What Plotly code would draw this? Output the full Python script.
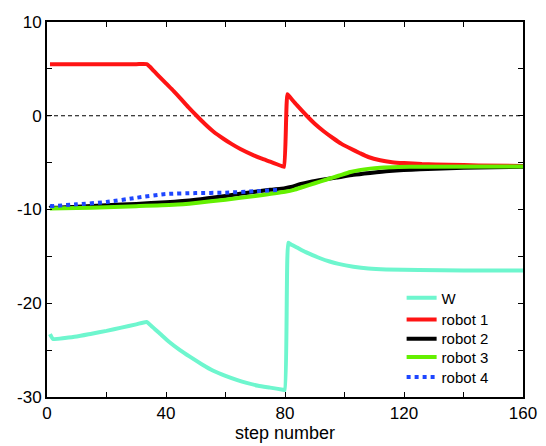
import plotly.graph_objects as go

# ---- data ----
w_steps = [1, 2, 6, 10, 15, 20, 25, 30, 33.5, 35, 38, 41, 44.7, 48, 52, 55.9, 60, 64, 67.1, 71, 75, 79.3, 79.9,
           81.1, 81.6, 84, 87, 91.8, 95, 98, 103, 108, 114, 125, 140, 160]
w_vals = [-23.3, -23.8, -23.7, -23.55, -23.25, -22.95, -22.6, -22.25, -22.0, -22.4, -23.25, -24.1, -25.0,
          -25.7, -26.5, -27.2, -27.75, -28.2, -28.5, -28.8, -29.0, -29.22, -29.25,
          -13.55, -13.65, -14.05, -14.55, -15.2, -15.55, -15.8, -16.1, -16.3, -16.4, -16.45, -16.5, -16.5]

r1_steps = [1, 10, 20, 30, 33.5, 34.5, 36, 38, 40, 42.5, 45, 47.5, 50.3, 53, 56, 59.3, 62, 65, 69.3, 72, 75,
            77.5, 79.2, 79.7, 80.8, 81.3, 82, 84, 87.3, 90, 93, 96.2, 99, 102, 105.2, 108, 112, 116, 120, 126,
            135, 145, 160]
r1_vals = [5.5, 5.5, 5.5, 5.5, 5.5, 5.25, 4.75, 4.1, 3.45, 2.65, 1.8, 0.92, 0.0, -0.85, -1.7, -2.45, -3.0, -3.55,
           -4.2, -4.55, -4.9, -5.2, -5.4, -5.45, 2.3, 2.12, 1.86, 1.13, 0.0, -0.85, -1.65, -2.4, -3.0, -3.5,
           -4.0, -4.4, -4.75, -4.95, -5.05, -5.15, -5.22, -5.3, -5.35]

r2_steps = [1, 2, 10, 20, 30, 40, 50, 60, 70, 75, 80, 82, 85, 88.4, 93, 97.3, 103, 108.6, 115, 125.4, 140, 160]
r2_vals = [-9.55, -9.8, -9.7, -9.55, -9.4, -9.22, -8.95, -8.55, -8.1, -7.9, -7.72, -7.6, -7.3, -7.05, -6.8,
           -6.6, -6.3, -6.1, -5.9, -5.7, -5.55, -5.45]

r3_steps = [1, 10, 20, 30, 42.5, 50, 60, 70, 80, 83, 86, 90, 94, 98, 102, 105, 108.6, 112, 118, 125, 160]
r3_vals = [-9.9, -9.85, -9.75, -9.65, -9.5, -9.3, -8.95, -8.55, -8.1, -7.9, -7.6, -7.2, -6.8, -6.4, -6.0,
           -5.8, -5.64, -5.55, -5.47, -5.43, -5.42]

r4_steps = [1, 10, 20, 30, 40, 50, 60, 70, 78]
r4_vals = [-9.65, -9.45, -9.2, -8.75, -8.35, -8.25, -8.2, -8.05, -7.9]

x_ticks = [0, 20, 40, 60, 80, 100, 120, 140, 160]
x_labels = ["0", "", "40", "", "80", "", "120", "", "160"]
y_ticks = [-30, -25, -20, -15, -10, -5, 0, 5, 10]
y_labels = ["-30", "", "-20", "", "-10", "", "0", "", "10"]

FONT = "Liberation Sans, Arial, sans-serif"

fig = go.Figure()
fig.add_trace(go.Scatter(x=w_steps, y=w_vals, mode="lines", name="W", legend="legend",
                         line=dict(color="rgb(110,246,206)", width=4, shape="spline", smoothing=0.5)))
fig.add_trace(go.Scatter(x=r1_steps, y=r1_vals, mode="lines", name="robot 1", legend="legend2",
                         line=dict(color="rgb(255,20,20)", width=4, shape="spline", smoothing=0.5)))
fig.add_trace(go.Scatter(x=r2_steps, y=r2_vals, mode="lines", name="robot 2", legend="legend3",
                         line=dict(color="black", width=4, shape="spline", smoothing=0.6)))
fig.add_trace(go.Scatter(x=r3_steps, y=r3_vals, mode="lines", name="robot 3", legend="legend4",
                         line=dict(color="rgb(100,240,0)", width=4, shape="spline", smoothing=0.6)))
fig.add_trace(go.Scatter(x=r4_steps, y=r4_vals, mode="lines", name="robot 4", legend="legend5",
                         line=dict(color="rgb(30,70,255)", width=4, dash="dot", shape="spline", smoothing=0.6)))

fig.add_shape(type="line", xref="x", yref="y", x0=0, x1=160, y0=0, y1=0,
              line=dict(color="black", width=1.2, dash="4px,3px"), layer="below")

axis_common = dict(showgrid=False, zeroline=False, showline=True, linecolor="black", linewidth=2,
                   mirror="ticks", ticks="inside", ticklen=5, tickcolor="black", tickwidth=1,
                   automargin=False,
                   tickfont=dict(family=FONT, size=17, color="black"))

legend_style = dict(xanchor="left", yanchor="middle", bgcolor="rgba(0,0,0,0)",
                    font=dict(family=FONT, size=15), itemwidth=30, x=0.745)
# legend entry centres (paper fraction of the plot height)
legend_y = [0.264, 0.206, 0.155, 0.106, 0.053]

fig.update_layout(
    width=546, height=446,
    margin=dict(l=47, r=23, t=22, b=49),
    paper_bgcolor="white", plot_bgcolor="white",
    font=dict(family=FONT, size=17, color="black"),
    xaxis=dict(range=[0, 160], tickmode="array", tickvals=x_ticks, ticktext=x_labels,
               title=dict(text="step number", standoff=4, font=dict(family=FONT, size=18)),
               **axis_common),
    yaxis=dict(range=[-30, 10], tickmode="array", tickvals=y_ticks, ticktext=y_labels,
               **axis_common),
    legend=dict(y=legend_y[0], **legend_style),
    legend2=dict(y=legend_y[1], **legend_style),
    legend3=dict(y=legend_y[2], **legend_style),
    legend4=dict(y=legend_y[3], **legend_style),
    legend5=dict(y=legend_y[4], **legend_style),
    showlegend=True,
)

fig.write_html("out.html")
